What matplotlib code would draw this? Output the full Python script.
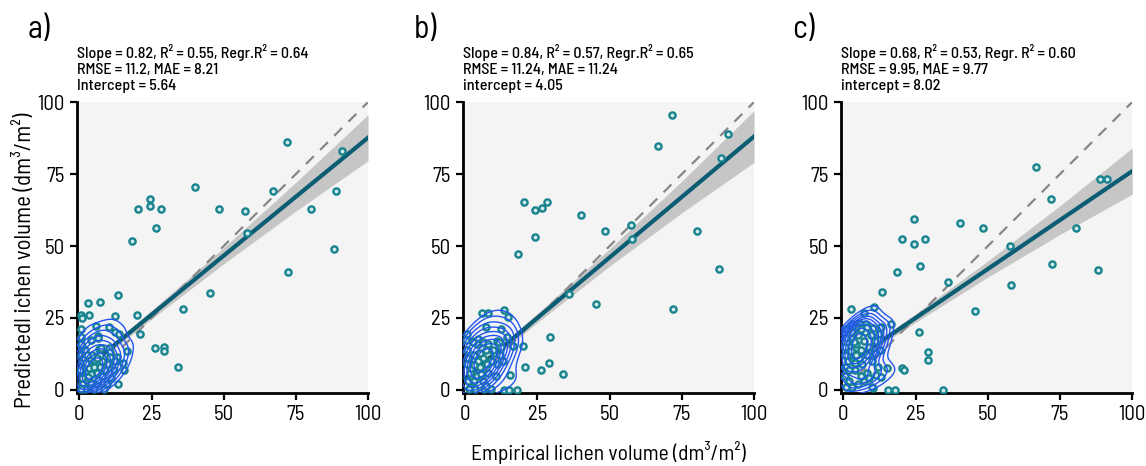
import numpy as np
import matplotlib.pyplot as plt
import seaborn as sns

plt.rcParams['font.family'] = ['Barlow Semi Condensed', 'Barlow', 'DejaVu Sans']

# NOTE: panel a points (empirical, predicted)
a_x = [72, 91, 40, 67, 89, 24.4, 24.4, 20.4, 28.4, 48.3, 57.5, 80.3, 26.5, 57.9, 18.4,
       88.2, 72.1, 45.4, 36, 34.3, 26.3, 29.2, 29.2, 13.4, 3, 7, 0.5, 0.8, 3.5, 12.5,
       20.1, 5.9, 10.3, 0.5, 12.3, 13.6, 20.9, 0.7, 6.5, 6.5, 4.2, 0.8, 1.7, 6.8, 10.4,
       10.6, 13.1, 16.6, 15.2, 15.6, 13.3,
       0.5, 1, 2, 1.5, 3, 2.5, 4, 5, 3.5, 6, 7, 5.5, 8, 9, 4.5, 2, 0.5, 1, 3, 6, 8, 10,
       7, 11, 9.5, 0.3, 2, 5, 4, 3, 6.5, 1.5, 7.5, 10.5, 12, 12.5, 8.5, 0.5, 3.5, 5,
       2.2, 4.2, 6, 1, 2.8]
a_y = [86, 83, 70.4, 69.2, 69.2, 66.2, 63.8, 63, 63, 63, 62, 63, 56.3, 54.4, 51.7,
       49.1, 41, 33.6, 28, 7.9, 14.6, 15, 13.6, 33, 30.3, 30.4, 25.9, 24.9, 26, 25.8,
       26, 22.1, 22, 21, 20.3, 19.3, 19.3, 18.3, 18.8, 18, 17.4, 14.5, 14.2, 14.1, 14.5,
       13.3, 11.6, 13.6, 9.3, 6.8, 2.1,
       12, 10, 8, 5, 3, 6.5, 7, 4, 9, 6, 8, 10.5, 5, 7, 12, 14, 16, 2, 1, 2, 10, 9,
       12, 4, 2, 7, 0.5, 0.5, 5.5, 4.5, 3.5, 11, 14.5, 11.5, 7, 10, 0.5, 0.5, 7.8, 8,
       9.5, 2.5, 11, 4, 12.2]

# NOTE: panel b points
b_x = [71.5, 91, 66.6, 88.5, 20.3, 24.3, 26.7, 28.4, 40.2, 48.3, 57.4, 80.1, 24.3,
       57.7, 18.3, 87.9, 35.9, 45.3, 71.8, 5.7, 8, 13.3, 14.9, 7, 12.3, 14.5, 29.2, 20,
       16.4, 20.7, 26.3, 29.1, 34, 15.4, 13.3, 15, 17.8, 0.6, 2.4, 4.4, 10.9,
       0.5, 1, 2, 1.5, 3, 2, 4, 5, 3, 6, 7, 6, 8, 9, 10, 11, 4, 6, 8, 2.5, 0.3, 1, 3.5,
       6.5, 9, 12, 12.5, 10.5, 7.5, 5, 2, 4.5, 3, 1.2, 0.5, 5.5, 7, 9.5, 11.5, 13]
b_y = [95.6, 88.8, 84.7, 80.6, 65.2, 62.5, 63.3, 65.2, 60.8, 55.1, 57.4, 55.1, 53,
       52.3, 47.2, 42, 33.3, 29.9, 28, 26.6, 26.6, 27.9, 25.5, 21.8, 21.3, 18.5, 18.4, 15.3,
       15.3, 8.1, 6.8, 9.3, 5.4, 5.2, 0, 0, 0, 19.4, 17, 17.6, 17.1,
       14, 11, 9, 6, 3, 1, 5, 8, 12, 11, 14, 3, 6, 10, 13, 9, 16, 16.5, 16, 16.8, 17.5,
       3, 0.5, 0.5, 0.3, 12, 15, 5, 9, 13, 7.5, 10, 8.5, 0.5, 9, 5.5, 1.5, 14, 16.5, 10]

# NOTE: panel c points
c_x = [66.8, 88.8, 91.3, 71.7, 24.4, 40.4, 48.3, 80.4, 20.4, 28.2, 24.4, 57.5, 18.4,
       26.6, 72.1, 88.3, 57.9, 36.1, 13.4, 45.4, 2.5, 10.7, 7, 26.3, 29.3, 29.2, 20.1,
       20.8, 15.2, 15.3, 17.9, 34.3, 16.4, 13, 12.3, 12.3, 10.3, 7.8, 5.4, 3, 4, 12.7,
       11, 11.3, 13, 10.1,
       0.5, 1, 1.5, 2, 2.5, 3, 3.5, 4, 4.5, 5, 5.5, 6, 6.5, 7, 7.5, 8, 9, 10, 0.5, 1,
       0.8, 2, 3, 5, 7, 8, 9, 10, 12, 11, 1.5, 2.5, 3.5, 4.5, 6, 3, 5, 1, 0.5, 2, 4, 6,
       8, 9.5, 12.5]
c_y = [77.3, 73.2, 73.2, 66.3, 59.3, 58.1, 56.3, 56.3, 52.3, 52.3, 50.6, 50.1, 41,
       42.9, 43.9, 41.6, 36.6, 37.4, 34.1, 27.3, 28.1, 28.9, 26.8, 20.1, 13.1, 10.5, 7.6,
       7, 7.5, 0, 0, 0, 22.8, 22, 19.5, 17.4, 21.4, 22.8, 23.4, 22.8, 22, 14,
       13, 5.3, 4.6, 0.8,
       5, 8, 12, 15, 18, 10, 13, 7, 16, 19, 11, 14, 9, 17, 20, 12, 15, 10, 15, 18,
       21, 3, 1, 2, 3, 6, 4, 1, 8, 17, 10, 13.5, 16.5, 12, 5, 20, 22, 1, 12, 7, 9.5, 21,
       22, 19, 14]

# NOTE: regression fits and confidence band half widths
slopes = [0.82, 0.84, 0.68]
intercepts = [5.64, 4.05, 8.02]
band_x = [0, 12, 25, 50, 75, 100]
band_hw = [[1.8, 1.2, 1.5, 2.8, 5.0, 8.0],
           [2.0, 1.3, 1.6, 3.0, 5.5, 9.0],
           [1.8, 1.2, 1.5, 2.8, 5.0, 8.0]]

labels = ['a)', 'b)', 'c)']
stats = ['Slope = 0.82, R² = 0.55, Regr.R² = 0.64\nRMSE = 11.2, MAE = 8.21\nIntercept = 5.64',
         'Slope = 0.84, R² = 0.57, Regr.R² = 0.65\nRMSE = 11.24, MAE = 11.24\nintercept = 4.05',
         'Slope = 0.68, R² = 0.53, Regr. R² = 0.60\nRMSE = 9.95, MAE = 9.77\nintercept = 8.02']
ticks = [0, 25, 50, 75, 100]

xs = [a_x, b_x, c_x]
ys = [a_y, b_y, c_y]

fig = plt.figure(figsize=(11.46, 4.66), dpi=100)
lefts = [0.0672, 0.404, 0.734]

for k in range(3):
    ax = fig.add_axes([lefts[k], 0.157, 0.254, 0.624])
    ax.set_facecolor('#f4f4f4')
    bx = np.array(band_x, dtype=float)
    fit = slopes[k] * bx + intercepts[k]
    hw = np.array(band_hw[k])
    ax.fill_between(bx, fit - hw, fit + hw, color='#c6c6c6', lw=0, zorder=2)
    ax.plot([0, 100], [0, 100], color='#878787', lw=1.6, dashes=(5, 4), zorder=3)
    ax.plot(bx, fit, color='#0b5d73', lw=3, zorder=4)
    ax.scatter(xs[k], ys[k], s=20, facecolor='#d3e8ea', edgecolor='#17838f',
               linewidth=1.7, zorder=5)
    sns.kdeplot(x=xs[k], y=ys[k], ax=ax, levels=10, thresh=0.45, bw_adjust=0.5,
                color='#2155f0', linewidths=1.0, zorder=6)

    ax.set_xlim(-0.8, 100)
    ax.set_ylim(-1, 100)
    ax.set_xticks(ticks)
    ax.set_yticks(ticks)
    ax.set_xlabel('')
    ax.set_ylabel('')
    ax.tick_params(labelsize=15, length=5, width=1.6, color='black', pad=4)
    for s in ['top', 'right']:
        ax.spines[s].set_visible(False)
    for s in ['left', 'bottom']:
        ax.spines[s].set_linewidth(2)
        ax.spines[s].set_color('black')
    ax.text(0.0, 1.03, stats[k], transform=ax.transAxes, ha='left', va='bottom',
            fontsize=11.5, fontweight='medium', linespacing=1.2)
    fig.text(lefts[k] - 0.043, 0.935, labels[k], fontsize=23, ha='left', va='center')

fig.text(0.022, 0.442, 'Predictedl ichen volume (dm³/m²)', rotation=90,
         ha='center', va='center', fontsize=16.5)
fig.text(0.5305, 0.028, 'Empirical lichen volume (dm³/m²)', ha='center',
         va='center', fontsize=15.5)

fig.savefig('out.png', dpi=100)
